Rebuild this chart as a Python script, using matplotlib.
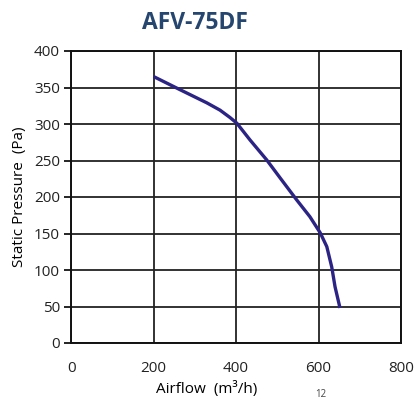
import matplotlib as mpl
mpl.use("Agg")
import matplotlib.pyplot as plt

mpl.rcParams["font.family"] = ["Open Sans", "DejaVu Sans"]

# ─── data ────────────────────────────────────────────────────────────
airflow = [200, 264, 329, 361, 385, 402, 434, 474, 507, 547, 579, 604, 620, 632, 640, 652]
pressure = [365, 347, 329, 319, 309, 301, 278, 251, 226, 196, 173, 151, 132, 104, 77, 48]

x_ticks = [0, 200, 400, 600, 800]
y_ticks = [0, 50, 100, 150, 200, 250, 300, 350, 400]

LINE_CLR = "#2b2485"
TITLE_CLR = "#24466f"

fig = plt.figure(figsize=(4.16, 4.0), dpi=100)
ax = fig.add_axes([0.171, 0.1425, 0.793, 0.73])

ax.plot(airflow, pressure, color=LINE_CLR, lw=2.4, solid_capstyle="butt",
        solid_joinstyle="round", zorder=3)

ax.set_xlim(0, 800)
ax.set_ylim(0, 400)
ax.set_xticks(x_ticks)
ax.set_yticks(y_ticks)
ax.grid(True, color="#222222", lw=1.3)
ax.set_axisbelow(True)
for sp in ax.spines.values():
    sp.set_linewidth(1.4)
    sp.set_color("#111111")

ax.tick_params(axis="x", length=0, pad=13, labelsize=11)
ax.tick_params(axis="y", length=5, width=1.2, pad=3, labelsize=11)
for lbl in ax.get_xticklabels() + ax.get_yticklabels():
    lbl.set_color("#222222")

ax.set_ylabel("Static Pressure  (Pa)", fontsize=11, labelpad=5)
fig.text(0.497, 0.028, "Airflow  (m³/h)", fontsize=11, ha="center", va="center")

fig.text(0.469, 0.942, "AFV-75DF", fontsize=16.5, fontweight="bold",
         color=TITLE_CLR, ha="center", va="center")

# page number peeking in at the bottom edge
fig.text(0.77, 0.0, "12", fontsize=7, color="#444444", ha="center", va="bottom")

fig.savefig("out.png", dpi=100)
